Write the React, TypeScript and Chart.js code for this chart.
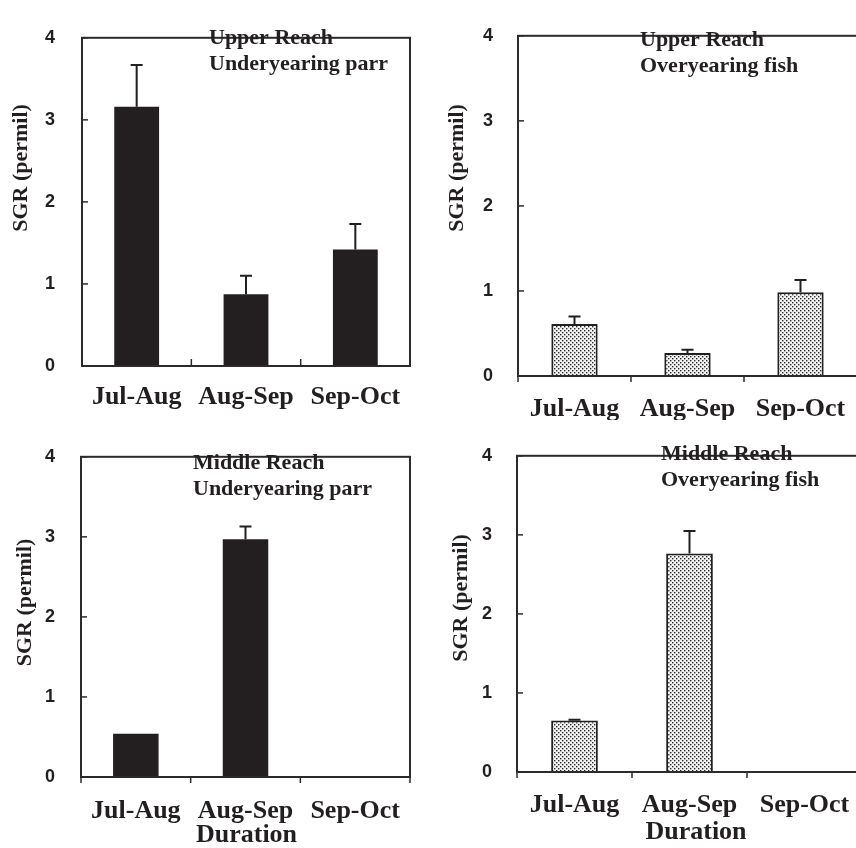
import React, { useEffect, useRef } from 'react';
import { Chart, registerables } from 'chart.js';

Chart.register(...registerables);

// ---------- data ----------
const categories = ['Jul-Aug', 'Aug-Sep', 'Sep-Oct'];
const yTickValues = [0, 1, 2, 3, 4];

const upperUnderMean: (number | null)[] = [3.16, 0.875, 1.42];
const upperUnderErr: (number | null)[] = [0.51, 0.225, 0.31];

const upperOverMean: (number | null)[] = [0.61, 0.27, 0.985];
const upperOverErr: (number | null)[] = [0.09, 0.04, 0.145];

const middleUnderMean: (number | null)[] = [0.54, 2.97, null];
const middleUnderErr: (number | null)[] = [0, 0.16, null];

const middleOverMean: (number | null)[] = [0.65, 2.765, null];
const middleOverErr: (number | null)[] = [0.01, 0.285, null];

const yAxisTitle = 'SGR (permil)';
const xAxisTitle = 'Duration';

// ---------- styles ----------
const INK = '#231f20';
const AXIS = '#2b2b2b';
const SERIF = '"Liberation Serif", "Times New Roman", serif';
const SANS = '"Liberation Sans", Arial, sans-serif';

type Panel = {
  left: number; top: number; width: number; height: number;
  area: { l: number; t: number; r: number; b: number };
  mean: (number | null)[]; err: (number | null)[];
  fill: 'solid' | 'dots';
  label: string[]; labelPos: { x: number; y: number };
  yTitlePos: { x: number; y: number };
  xTickDir: 'in' | 'out'; xTickEnds: boolean;
  xPad: number; yPad: number; barPct: number;
  duration?: { x: number; y: number };
};

const panels: Panel[] = [
  {
    left: 0, top: 0, width: 430, height: 420,
    area: { l: 82, t: 17, r: 410, b: 366 },
    mean: upperUnderMean, err: upperUnderErr, fill: 'solid',
    label: ['Upper Reach', 'Underyearing parr'], labelPos: { x: 209, y: 44 },
    yTitlePos: { x: 21.5, y: 168 },
    xTickDir: 'in', xTickEnds: false, xPad: 16, yPad: 27, barPct: 0.41,
  },
  {
    left: 430, top: 0, width: 440, height: 420,
    area: { l: 518, t: 16, r: 857, b: 376 },
    mean: upperOverMean, err: upperOverErr, fill: 'dots',
    label: ['Upper Reach', 'Overyearing fish'], labelPos: { x: 640, y: 45.5 },
    yTitlePos: { x: 457, y: 168 },
    xTickDir: 'out', xTickEnds: true, xPad: 18, yPad: 25, barPct: 0.41,
  },
  {
    left: 0, top: 420, width: 430, height: 428,
    area: { l: 81, t: 443, r: 410, b: 777 },
    mean: middleUnderMean, err: middleUnderErr, fill: 'solid',
    label: ['Middle Reach', 'Underyearing parr'], labelPos: { x: 193, y: 469 },
    yTitlePos: { x: 25.5, y: 602.5 },
    xTickDir: 'out', xTickEnds: true, xPad: 19, yPad: 26, barPct: 0.415,
    duration: { x: 246.5, y: 842 },
  },
  {
    left: 430, top: 420, width: 440, height: 428,
    area: { l: 517, t: 433, r: 862, b: 772 },
    mean: middleOverMean, err: middleOverErr, fill: 'dots',
    label: ['Middle Reach', 'Overyearing fish'], labelPos: { x: 661, y: 460 },
    yTitlePos: { x: 461, y: 598 },
    xTickDir: 'out', xTickEnds: true, xPad: 18, yPad: 25, barPct: 0.406,
    duration: { x: 696, y: 839 },
  },
];

function makeDots(): CanvasPattern | string {
  const c = document.createElement('canvas');
  c.width = 4; c.height = 4;
  const g = c.getContext('2d');
  if (!g) return '#ccc';
  g.fillStyle = '#f2f2f2';
  g.fillRect(0, 0, 4, 4);
  g.fillStyle = '#2e2e2e';
  g.fillRect(0, 0, 1.4, 1.4);
  g.fillRect(2, 2, 1.4, 1.4);
  return g.createPattern(c, 'repeat') || '#ccc';
}

function PanelChart({ p }: { p: Panel }) {
  const ref = useRef<HTMLCanvasElement>(null);

  useEffect(() => {
    const canvas = ref.current;
    if (!canvas) return;
    const fill = p.fill === 'dots' ? makeDots() : INK;

    const decor = {
      id: 'decor',
      afterDatasetsDraw(chart: any) {
        const { ctx, chartArea: ca, scales } = chart;
        const xs = scales.x;
        const ys = scales.y;
        ctx.save();
        // error bars
        ctx.strokeStyle = INK;
        ctx.lineWidth = 2;
        p.mean.forEach((m, i) => {
          const e = p.err[i];
          if (m == null || e == null || e <= 0) return;
          const x = xs.getPixelForValue(i);
          const y0 = ys.getPixelForValue(m);
          const y1 = ys.getPixelForValue(m + e);
          ctx.beginPath();
          ctx.moveTo(x, y0);
          ctx.lineTo(x, y1);
          ctx.moveTo(x - 6, y1);
          ctx.lineTo(x + 6, y1);
          ctx.stroke();
        });
        // frame
        ctx.strokeStyle = AXIS;
        ctx.lineWidth = 2;
        ctx.strokeRect(ca.left, ca.top, ca.right - ca.left, ca.bottom - ca.top);
        // y ticks (inward)
        ctx.lineWidth = 1.5;
        yTickValues.forEach((v) => {
          const y = ys.getPixelForValue(v);
          ctx.beginPath();
          ctx.moveTo(ca.left, y);
          ctx.lineTo(ca.left + 6, y);
          ctx.stroke();
        });
        // x ticks at category boundaries
        for (let k = 0; k <= categories.length; k++) {
          if (!p.xTickEnds && (k === 0 || k === categories.length)) continue;
          const x = xs.getPixelForValue(k - 0.5);
          ctx.beginPath();
          ctx.moveTo(x, ca.bottom);
          ctx.lineTo(x, p.xTickDir === 'in' ? ca.bottom - 7 : ca.bottom + 6);
          ctx.stroke();
        }
        ctx.restore();
      },
      afterDraw(chart: any) {
        const { ctx } = chart;
        const ox = p.left;
        const oy = p.top;
        ctx.save();
        ctx.fillStyle = INK;
        // panel label
        ctx.font = `bold 22px ${SERIF}`;
        ctx.textAlign = 'left';
        ctx.textBaseline = 'alphabetic';
        p.label.forEach((line, i) => {
          ctx.fillText(line, p.labelPos.x - ox, p.labelPos.y - oy + i * 26);
        });
        // y axis title
        ctx.save();
        ctx.translate(p.yTitlePos.x - ox, p.yTitlePos.y - oy);
        ctx.rotate(-Math.PI / 2);
        ctx.font = `bold 22px ${SERIF}`;
        ctx.textAlign = 'center';
        ctx.textBaseline = 'middle';
        ctx.fillText(yAxisTitle, 0, 0);
        ctx.restore();
        // x axis title
        if (p.duration) {
          ctx.font = `bold 26px ${SERIF}`;
          ctx.textAlign = 'center';
          ctx.textBaseline = 'alphabetic';
          ctx.fillText(xAxisTitle, p.duration.x - ox, p.duration.y - oy);
        }
        ctx.restore();
      },
    };

    const chart = new Chart(canvas, {
      type: 'bar',
      data: {
        labels: categories,
        datasets: [
          {
            data: p.mean as any,
            backgroundColor: fill as any,
            borderColor: INK,
            borderWidth: p.fill === 'dots' ? 2 : 0,
            borderSkipped: 'start',
            barPercentage: p.barPct,
            categoryPercentage: 1,
          },
        ],
      },
      options: {
        responsive: false,
        animation: false,
        devicePixelRatio: 1,
        events: [],
        layout: {
          padding: {
            left: 0,
            top: p.area.t - p.top,
            right: p.left + p.width - p.area.r,
            bottom: 0,
          },
        },
        plugins: {
          legend: { display: false },
          tooltip: { enabled: false },
          title: { display: false },
        },
        scales: {
          x: {
            type: 'category',
            offset: true,
            grid: { display: false, drawTicks: false },
            border: { display: false },
            ticks: {
              color: INK,
              font: { family: SERIF, size: 26, weight: 'bold' },
              padding: p.xPad,
              maxRotation: 0,
              autoSkip: false,
            },
            afterFit: (s: any) => {
              s.height = p.top + p.height - p.area.b;
            },
          },
          y: {
            min: 0,
            max: 4,
            grid: { display: false, drawTicks: false },
            border: { display: false },
            ticks: {
              color: INK,
              font: { family: SANS, size: 18, weight: 'bold' },
              padding: p.yPad,
            },
            afterBuildTicks: (s: any) => {
              s.ticks = yTickValues.map((v) => ({ value: v }));
            },
            afterFit: (s: any) => {
              s.width = p.area.l - p.left;
            },
          },
        },
      } as any,
      plugins: [decor],
    });
    return () => chart.destroy();
  }, [p]);

  return (
    <canvas
      ref={ref}
      width={p.width}
      height={p.height}
      style={{ position: 'absolute', left: p.left, top: p.top, width: p.width, height: p.height }}
    />
  );
}

export default function App() {
  return (
    <div
      style={{
        position: 'absolute',
        left: 0,
        top: 0,
        width: 856,
        height: 848,
        overflow: 'hidden',
        background: '#fff',
      }}
    >
      {panels.map((p, i) => (
        <PanelChart key={i} p={p} />
      ))}
    </div>
  );
}
